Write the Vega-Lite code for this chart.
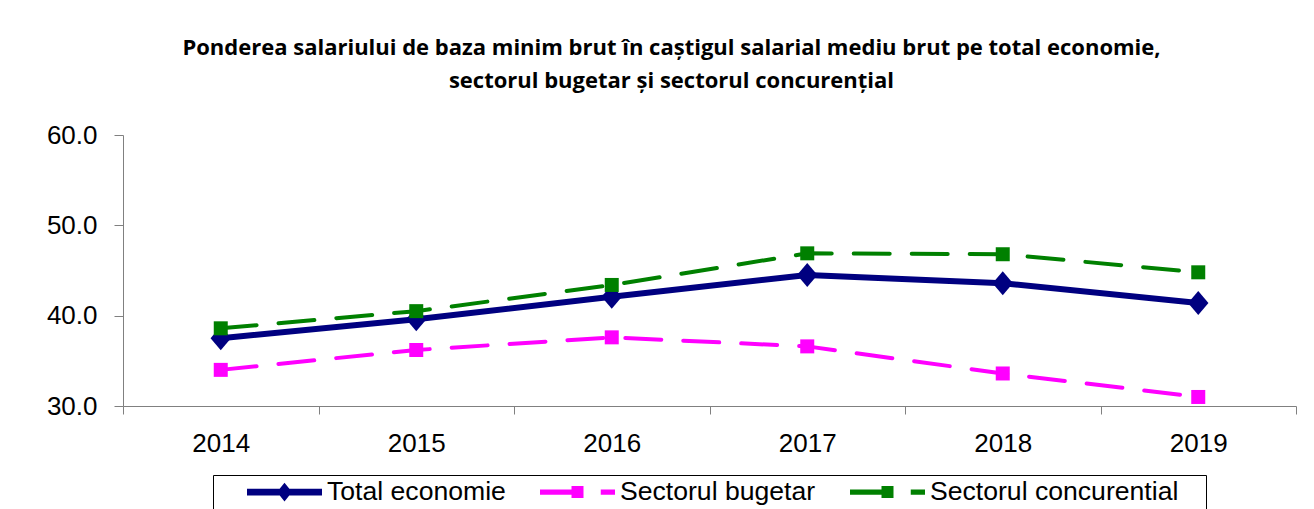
{
  "$schema": "https://vega.github.io/schema/vega-lite/v6.json",
  "autosize": {"type": "none"},
  "width": 1173,
  "height": 271,
  "padding": {"left": 123, "top": 135, "right": 18, "bottom": 103},
  "background": "#ffffff",
  "config": {"view": {"stroke": null}},
  "title": {
    "text": ["Ponderea salariului de baza minim brut în caștigul salarial mediu brut pe total economie,", "sectorul bugetar și sectorul concurențial"],
    "font": "Open Sans",
    "fontSize": 22,
    "fontWeight": "bold",
    "color": "#000000",
    "lineHeight": 33,
    "anchor": "middle",
    "baseline": "bottom",
    "offset": 7,
    "dx": -38
  },
  "data": {
    "values": [
      {"year": "2014", "series": "Total economie", "value": 37.5},
      {"year": "2015", "series": "Total economie", "value": 39.6},
      {"year": "2016", "series": "Total economie", "value": 42.1},
      {"year": "2017", "series": "Total economie", "value": 44.5},
      {"year": "2018", "series": "Total economie", "value": 43.6},
      {"year": "2019", "series": "Total economie", "value": 41.4},
      {"year": "2014", "series": "Sectorul bugetar", "value": 34.0},
      {"year": "2015", "series": "Sectorul bugetar", "value": 36.2},
      {"year": "2016", "series": "Sectorul bugetar", "value": 37.6},
      {"year": "2017", "series": "Sectorul bugetar", "value": 36.6},
      {"year": "2018", "series": "Sectorul bugetar", "value": 33.6},
      {"year": "2019", "series": "Sectorul bugetar", "value": 31.0},
      {"year": "2014", "series": "Sectorul concurential", "value": 38.6},
      {"year": "2015", "series": "Sectorul concurential", "value": 40.5},
      {"year": "2016", "series": "Sectorul concurential", "value": 43.4},
      {"year": "2017", "series": "Sectorul concurential", "value": 46.9},
      {"year": "2018", "series": "Sectorul concurential", "value": 46.8},
      {"year": "2019", "series": "Sectorul concurential", "value": 44.8}
    ]
  },
  "encoding": {
    "x": {
      "field": "year",
      "type": "ordinal",
      "bandPosition": 0.5,
      "scale": {"type": "band", "paddingInner": 0, "paddingOuter": 0},
      "axis": {
        "title": null,
        "labelAngle": 0,
        "tickBand": "extent",
        "domainColor": "#808080",
        "tickColor": "#808080",
        "tickSize": 8,
        "labelFont": "Liberation Sans",
        "labelFontSize": 26,
        "labelColor": "#000000",
        "labelPadding": 16,
        "grid": false
      }
    },
    "y": {
      "field": "value",
      "type": "quantitative",
      "scale": {"domain": [30, 60], "nice": false, "zero": false},
      "axis": {
        "title": null,
        "values": [30, 40, 50, 60],
        "format": ".1f",
        "domainColor": "#808080",
        "tickColor": "#808080",
        "tickSize": 9,
        "labelFont": "Liberation Sans",
        "labelFontSize": 26,
        "labelColor": "#000000",
        "labelPadding": 17,
        "grid": false
      }
    },
    "color": {
      "field": "series",
      "type": "nominal",
      "scale": {"domain": ["Total economie", "Sectorul bugetar", "Sectorul concurential"], "range": ["#000080", "#FF00FF", "#008000"]},
      "legend": {
        "orient": "none",
        "legendX": 90,
        "legendY": 340,
        "direction": "horizontal",
        "title": "\u00a0",
        "titleOrient": "left",
        "titleFontSize": 1,
        "titlePadding": 33,
        "padding": 1,
        "strokeColor": "#000000",
        "symbolSize": 5625,
        "symbolStrokeWidth": 0,
        "clipHeight": 32,
        "labelOffset": 5,
        "columnPadding": 34,
        "labelFont": "Liberation Sans",
        "labelFontSize": 26.6,
        "labelColor": "#000000",
        "labelLimit": 500,
        "labelExpr": "datum.label == 'Sectorul concurential' ? datum.label + '\u2003\u200b' : datum.label",
        "encode": {
          "symbols": {
            "update": {
              "shape": {"signal": "datum.value == 'Total economie' ? 'M-1,-0.09L1,-0.09L1,0.09L-1,0.09Z M0,-0.25L0.2,0L0,0.25L-0.2,0Z' : 'M-1,-0.07L0,-0.07L0,0.07L-1,0.07Z M-0.16,-0.16L0.16,-0.16L0.16,0.16L-0.16,0.16Z M0.62,-0.07L1,-0.07L1,0.07L0.62,0.07Z'"},
              "size": {"value": 5625},
              "fill": {"scale": "color", "field": "value"},
              "stroke": {"value": "transparent"},
              "opacity": {"value": 1}
            }
          }
        }
      }
    }
  },
  "layer": [
    {
      "transform": [{"filter": "datum.series === 'Total economie'"}],
      "mark": {"type": "line", "strokeWidth": 6, "strokeCap": "round", "strokeJoin": "round"}
    },
    {
      "transform": [{"filter": "datum.series !== 'Total economie'"}],
      "mark": {"type": "line", "strokeWidth": 4, "strokeDash": [36, 22], "strokeCap": "round", "strokeJoin": "round"}
    },
    {
      "transform": [{"filter": "datum.series === 'Total economie'"}],
      "mark": {"type": "point", "filled": true, "opacity": 1, "strokeWidth": 0, "shape": "M-0.85,0L0,-1L0.85,0L0,1Z", "size": 576}
    },
    {
      "transform": [{"filter": "datum.series !== 'Total economie'"}],
      "mark": {"type": "point", "filled": true, "opacity": 1, "strokeWidth": 0, "shape": "square", "size": 196}
    }
  ]
}
